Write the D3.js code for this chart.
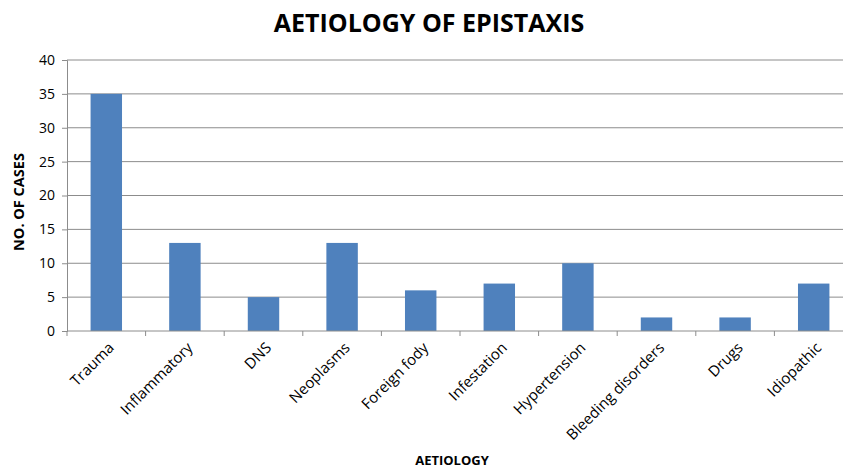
<!DOCTYPE html>
<html lang="en">
<head>
<meta charset="UTF-8">
<title>Aetiology of Epistaxis</title>
<script src="https://cdnjs.cloudflare.com/ajax/libs/d3/7.8.5/d3.min.js"></script>
<style>
  body { margin: 0; background: #fff; }
  svg text { font-family: "Open Sans", "Liberation Sans", sans-serif; fill: #000; }
</style>
</head>
<body>
<svg id="chart" width="843" height="470"></svg>
<script>
// data
const causes = ["Trauma", "Inflammatory", "DNS", "Neoplasms", "Foreign fody",
                "Infestation", "Hypertension", "Bleeding disorders", "Drugs", "Idiopathic"];
const cases = [35, 13, 5, 13, 6, 7, 10, 2, 2, 7];
const yTicks = [0, 5, 10, 15, 20, 25, 30, 35, 40];

const svg = d3.select("#chart");

// plot area (right edge runs past the window like in the original)
const plotLeft = 67, plotRight = 853, plotTop = 60, plotBottom = 331;

const x = d3.scaleBand().domain(causes).range([plotLeft, plotRight]).paddingInner(0.6).paddingOuter(0.3);
const y = d3.scaleLinear().domain([0, 40]).range([plotBottom, plotTop]);

// gridlines
svg.append("g")
  .selectAll("line")
  .data(yTicks.filter(d => d > 0))
  .join("line")
  .attr("x1", plotLeft).attr("x2", plotRight)
  .attr("y1", d => y(d)).attr("y2", d => y(d))
  .attr("stroke", "#8c8c8c").attr("stroke-width", 1);

// bars
svg.append("g")
  .selectAll("rect")
  .data(causes)
  .join("rect")
  .attr("x", (d) => x(d))
  .attr("width", x.bandwidth())
  .attr("y", (d, i) => y(cases[i]))
  .attr("height", (d, i) => plotBottom - y(cases[i]))
  .attr("fill", "#4f81bd");

// y axis
const yAxis = svg.append("g")
  .attr("transform", `translate(${plotLeft},0)`)
  .call(d3.axisLeft(y).tickValues(yTicks).tickSize(5).tickPadding(7));
yAxis.select(".domain").attr("stroke", "#8c8c8c");
yAxis.selectAll(".tick line").attr("stroke", "#8c8c8c");
yAxis.selectAll("text").attr("font-size", 14).attr("fill", "#000");

// x axis - ticks sit between the categories
const step = x.step();
const xAxis = svg.append("g").attr("transform", `translate(0,${plotBottom})`);
xAxis.append("line")
  .attr("x1", plotLeft).attr("x2", plotRight)
  .attr("stroke", "#8c8c8c");
xAxis.selectAll("line.tk")
  .data(d3.range(causes.length + 1))
  .join("line")
  .attr("class", "tk")
  .attr("x1", i => plotLeft + i * step).attr("x2", i => plotLeft + i * step)
  .attr("y1", 0).attr("y2", 5)
  .attr("stroke", "#8c8c8c");
xAxis.selectAll("text")
  .data(causes)
  .join("text")
  .attr("transform", d => `translate(${x(d) + x.bandwidth() / 2 + 5},${14}) rotate(-45)`)
  .attr("text-anchor", "end")
  .attr("dy", "0.35em")
  .attr("font-size", 15)
  .text(d => d);

// titles
svg.append("text")
  .attr("x", 429).attr("y", 32)
  .attr("text-anchor", "middle")
  .attr("font-size", 25).attr("font-weight", "bold")
  .text("AETIOLOGY OF EPISTAXIS");

svg.append("text")
  .attr("transform", "translate(24,202) rotate(-90)")
  .attr("text-anchor", "middle")
  .attr("font-size", 14.5).attr("font-weight", "bold")
  .text("NO. OF CASES");

svg.append("text")
  .attr("x", 452).attr("y", 465)
  .attr("text-anchor", "middle")
  .attr("font-size", 13).attr("font-weight", "bold")
  .text("AETIOLOGY");
</script>
</body>
</html>
